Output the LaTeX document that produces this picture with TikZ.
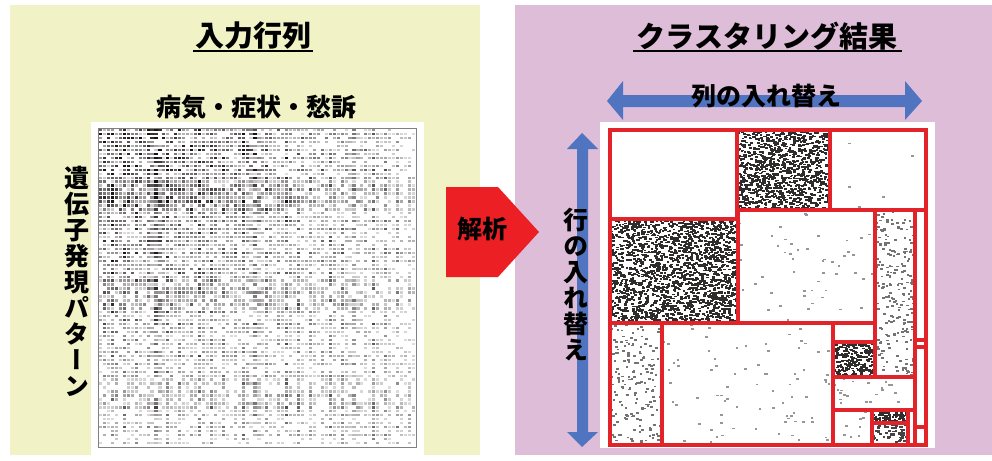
\documentclass[tikz,border=0pt]{standalone}
\usepackage{fontspec}
\usepackage{graphicx}
\newfontfamily\jp{Noto Sans CJK JP}
\newfontfamily\jpv{Noto Sans CJK JP}[RawFeature=+vert]
\definecolor{yellowbg}{RGB}{241,242,198}
\definecolor{pinkbg}{RGB}{222,189,217}
\definecolor{arrblue}{RGB}{80,116,192}
\definecolor{arrred}{RGB}{236,32,36}
\definecolor{linered}{RGB}{226,36,42}
\definecolor{dotc}{RGB}{25,20,20}
\newcommand\scatterdots[6]{%
  \foreach \k in {1,...,#5}{%
    \pgfmathsetmacro\xx{#1+rnd*(#3-#1-2.6)}%
    \pgfmathsetmacro\yy{#2+rnd*(#4-#2-1.8)}%
    \fill[dotc!#6!white] (\xx,\yy) rectangle ++(2.6,1.8);
  }}
\tikzset{
  title/.style={font=\jp\bfseries\fontsize{29}{32}\selectfont, inner sep=0pt},
  label/.style={font=\jp\bfseries\fontsize{25}{28}\selectfont, inner sep=0pt},
  vlabel/.style={font=\jpv\bfseries\fontsize{25}{26}\selectfont, inner sep=0pt, align=center},
  block/.style={draw=linered, line width=3.6pt},
}
\begin{document}
\begin{tikzpicture}[x=1pt,y=-1pt]
\useasboundingbox (0,0) rectangle (992,460);
\fill[white] (0,0) rectangle (992,460);
% panels
\fill[yellowbg] (10,5) rectangle (480,455);
\fill[pinkbg] (515,5) rectangle (992,455);
% titles
\node[title] (t1) at (253,36) {入力行列};
\draw[line width=1.8pt] (193,51) -- (313,51);
\node[title] (t2) at (767,36) {クラスタリング結果};
\draw[line width=1.8pt] (633,51) -- (902,51);
% left matrix
\fill[white] (91,122) rectangle (424,455);
\pgfmathsetseed{11}
\foreach \i in {0,...,79}{%
  \pgfmathsetmacro\cf{mod(\i*7,11)/11}%
  \foreach \j in {0,...,79}{%
    \pgfmathtruncatemacro\pc{min(100,170*(0.06+0.32*\cf*\cf+0.16*mod(\j*5,13)/13+0.55*(1-\i/80)*(1-\j/80)^1.5)*rnd)}%
    \ifnum\pc>14
      \fill[dotc!\pc!white] (99+\i*3.96,129+\j*3.96) rectangle ++(3.1,2.3);
    \fi
  }%
}
\draw[gray, line width=1pt] (98,128) rectangle (416,447);
\node[label] (cols) at (256,107) {病気・症状・愁訴};
\node[vlabel] (rows) at (77,281) {遺\\伝\\子\\発\\現\\パ\\タ\\ー\\ン};
% analysis arrow
\fill[arrred] (446,187) -- (498,187) -- (539,232) -- (498,277) -- (446,277) -- cycle;
\node[label] (ana) at (482,229) {解析};
% right matrix
\fill[white] (600,122) rectangle (935,448);
\scatterdots{737}{130}{830}{210}{1100}{90}
\scatterdots{610}{219}{738}{323}{1900}{90}
\scatterdots{833}{342}{875}{377}{230}{90}
\scatterdots{872}{410}{908}{423}{90}{90}
\scatterdots{872}{423}{908}{445}{60}{80}
\scatterdots{875}{210}{915}{377}{220}{60}
\scatterdots{610}{323}{662}{445}{170}{60}
\scatterdots{738}{210}{875}{323}{50}{45}
\scatterdots{662}{323}{833}{445}{80}{45}
\scatterdots{833}{377}{915}{410}{22}{45}
\scatterdots{833}{410}{872}{445}{8}{45}
\scatterdots{830}{130}{926}{210}{6}{45}
\draw[block] (610,130) rectangle (737,219);
\draw[block] (737,130) rectangle (830,210);
\draw[block] (830,130) rectangle (926,210);
\draw[block] (610,219) rectangle (738,323);
\draw[block] (738,210) rectangle (875,323);
\draw[block] (875,210) rectangle (915,377);
\draw[block] (915,210) rectangle (926,340);
\draw[block] (915,340) rectangle (926,347);
\draw[block] (915,347) rectangle (926,427);
\draw[block] (915,427) rectangle (926,445);
\draw[block] (610,323) rectangle (662,445);
\draw[block] (662,323) rectangle (833,445);
\draw[block] (833,323) rectangle (875,342);
\draw[block] (833,342) rectangle (875,377);
\draw[block] (833,377) rectangle (915,410);
\draw[block] (833,410) rectangle (872,445);
\draw[block] (872,410) rectangle (908,423);
\draw[block] (872,423) rectangle (908,445);
\draw[block] (908,410) rectangle (915,445);
\draw[block] (610,130) rectangle (926,445);
% blue double arrows
\fill[arrblue] (607,101) -- (623,81) -- (623,95) -- (905,95) -- (905,81) -- (922,101)
  -- (905,120) -- (905,107) -- (623,107) -- (623,120) -- cycle;
\node[label] (colswap) at (766,96) {列の入れ替え};
\fill[arrblue] (582,133) -- (598,149) -- (588,149) -- (588,432) -- (598,432) -- (582,447)
  -- (567,432) -- (577,432) -- (577,149) -- (567,149) -- cycle;
\node[vlabel] (rowswap) at (576,285) {行\\の\\入\\れ\\替\\え};
\end{tikzpicture}
\end{document}
